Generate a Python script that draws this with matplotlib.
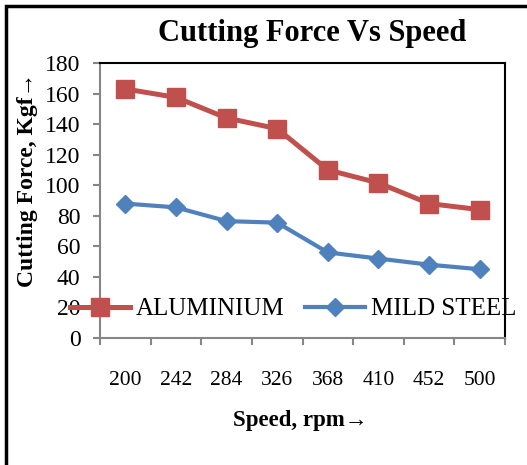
import numpy as np
import matplotlib
matplotlib.use("Agg")
import matplotlib.pyplot as plt
from matplotlib.patches import Rectangle

plt.rcParams["font.family"] = ["Liberation Serif", "DejaVu Serif"]

speeds = ["200", "242", "284", "326", "368", "410", "452", "500"]
aluminium = [163, 157.5, 144, 137, 110, 101.5, 88, 84]
mild_steel = [88, 85.5, 76.5, 75.5, 56, 52, 48, 45]

RED = "#C0504D"
BLUE = "#4F81BD"
GRAY = "#868686"

fig = plt.figure(figsize=(5.27, 4.65), dpi=100)
ax = fig.add_axes([100 / 527, 1 - 338 / 465, 405 / 527, 275 / 465])

x = np.arange(len(speeds))
ax.plot(x, aluminium, color=RED, lw=3.6, marker="s", markersize=13.5,
        markerfacecolor=RED, markeredgecolor=RED, label="ALUMINIUM")
ax.plot(x, mild_steel, color=BLUE, lw=3.0, marker="D", markersize=9.5,
        markerfacecolor=BLUE, markeredgecolor=BLUE, label="MILD STEEL")

ax.set_xlim(-0.5, len(speeds) - 0.5)
ax.set_ylim(0, 180)
ax.set_yticks(np.arange(0, 181, 20))
ax.set_xticks(x)
ax.set_xticklabels(speeds)
ax.set_xticks(np.arange(-0.5, len(speeds), 1), minor=True)

ax.tick_params(axis="x", which="major", length=0, pad=24, labelsize=15.5)
ax.tick_params(axis="x", which="minor", length=5, width=1.5, color=GRAY, direction="out")
ax.tick_params(axis="y", length=5, width=1.5, color=GRAY, pad=9, labelsize=17)

for s in ["left", "bottom"]:
    ax.spines[s].set_color(GRAY)
    ax.spines[s].set_linewidth(1.5)
for s in ["top", "right"]:
    ax.spines[s].set_color("black")
    ax.spines[s].set_linewidth(1.5)

leg = ax.legend(loc="center", bbox_to_anchor=(293 / 527, 1 - 309 / 465),
                bbox_transform=fig.transFigure, ncol=2, frameon=False,
                fontsize=18, handlelength=2.4, handletextpad=0.25,
                columnspacing=0.8, borderpad=0)

fig.text(312 / 527, 1 - 33 / 465, "Cutting Force Vs Speed", ha="center",
         va="center", fontsize=22, fontweight="bold")
fig.text(28 / 527, 1 - 180 / 465, "Cutting Force, Kgf\u2192", ha="center",
         va="center", rotation=90, fontsize=17, fontweight="bold")
fig.text(300 / 527, 1 - 420 / 465, "Speed, rpm\u2192", ha="center",
         va="center", fontsize=16.5, fontweight="bold")

fig.patches.append(Rectangle((6 / 527, -0.1), 1.2, 1 - 6 / 465 + 0.1,
                             transform=fig.transFigure, fill=False,
                             edgecolor="black", lw=2.5))

fig.savefig("out.png", dpi=100)
